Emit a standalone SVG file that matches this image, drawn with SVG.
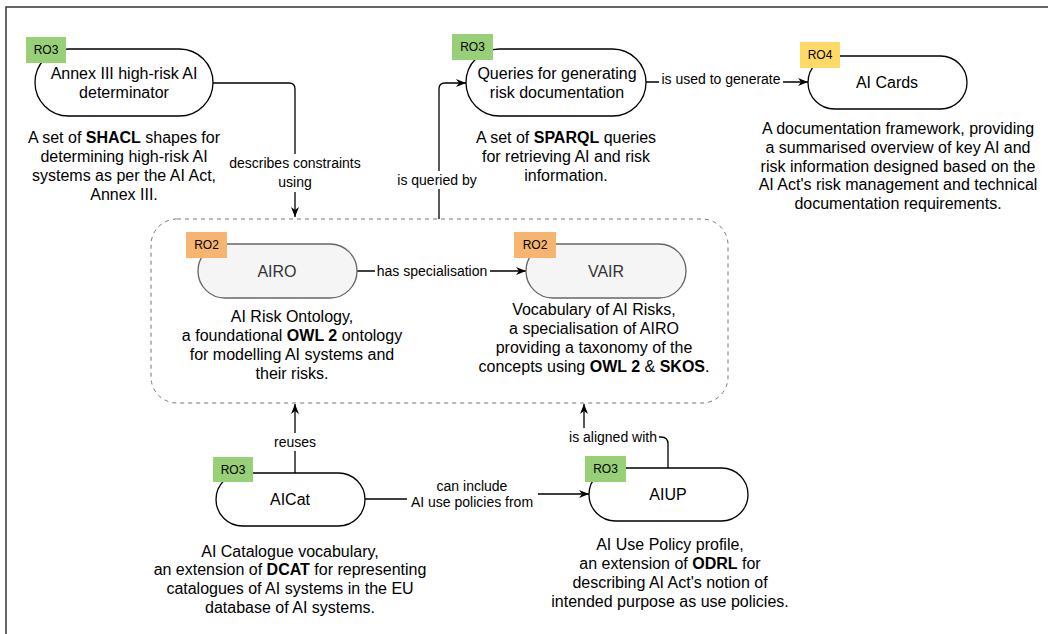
<svg xmlns="http://www.w3.org/2000/svg" width="1048" height="634" viewBox="0 0 1048 634">
  <style>
    text { font-family: "Liberation Sans", Arial, Helvetica, sans-serif; fill: #000; }
    .lbl { font-size: 16px; text-anchor: middle; }
    .desc { font-size: 16px; text-anchor: middle; }
    .edge-lbl { font-size: 14px; text-anchor: middle; }
    .badge-t { font-size: 12px; text-anchor: middle; }
    .pill { fill: #ffffff; stroke: #000000; stroke-width: 1.3; }
    .pill-g { fill: #f5f5f5; stroke: #666666; stroke-width: 1.3; }
    .lbl-g { fill: #333333; }
    .ro3 { fill: #97D077; }
    .ro2 { fill: #F5B46F; }
    .ro4 { fill: #FFD966; }
    .edge { fill: none; stroke: #000000; stroke-width: 1.3; }
    .lbl-bg { fill: #ffffff; }
    b, .b { font-weight: bold; }
  </style>
  <defs>
    <marker id="arrow" viewBox="0 0 10 10" refX="10" refY="5" markerWidth="10" markerHeight="10" markerUnits="userSpaceOnUse" orient="auto">
      <path d="M0,1 L10,5 L0,9 L3,5 z" fill="#000000"/>
    </marker>
  </defs>

  <rect width="1048" height="634" fill="#ffffff"/>
  <!-- frame -->
  <path d="M6,634 V7 H1048" fill="none" stroke="#333333" stroke-width="1.5"/>

  <!-- dashed grouping of the ontologies -->
  <g id="ontology-group">
    <rect x="151" y="219" width="577" height="184" rx="26" ry="26" fill="none" stroke="#777777" stroke-width="1" stroke-dasharray="4 4"/>
  </g>

  <!-- connectors -->
  <g id="connectors">
    <path class="edge" d="M213,83 H289 Q295,83 295,89 V217" marker-end="url(#arrow)"/>
    <rect class="lbl-bg" x="228" y="154" width="134" height="38"/>
    <text class="edge-lbl" x="295" y="168">describes constraints</text>
    <text class="edge-lbl" x="295" y="187">using</text>

    <path class="edge" d="M439,219 V89 Q439,83 445,83 H466" marker-end="url(#arrow)"/>
    <rect class="lbl-bg" x="394" y="171" width="86" height="18"/>
    <text class="edge-lbl" x="437" y="185">is queried by</text>

    <path class="edge" d="M646,82 H808" marker-end="url(#arrow)"/>
    <rect class="lbl-bg" x="659" y="71" width="124" height="18"/>
    <text class="edge-lbl" x="721" y="84">is used to generate</text>

    <path class="edge" d="M357,271 H526" marker-end="url(#arrow)"/>
    <rect class="lbl-bg" x="375" y="263" width="115" height="18"/>
    <text class="edge-lbl" x="432" y="276">has specialisation</text>

    <path class="edge" d="M295,473 V404" marker-end="url(#arrow)"/>
    <rect class="lbl-bg" x="272" y="433" width="46" height="18"/>
    <text class="edge-lbl" x="295" y="447">reuses</text>

    <path class="edge" d="M365,499 H472 V494 H589" marker-end="url(#arrow)"/>
    <rect class="lbl-bg" x="407" y="477" width="131" height="33"/>
    <text class="edge-lbl" x="472" y="491">can include</text>
    <text class="edge-lbl" x="472" y="507">AI use policies from</text>

    <path class="edge" d="M668,468 V444 Q668,437 661,437 H584 V404" marker-end="url(#arrow)"/>
    <rect class="lbl-bg" x="567" y="428" width="92" height="18"/>
    <text class="edge-lbl" x="613" y="442">is aligned with</text>
  </g>

  <!-- Annex III high-risk AI determinator -->
  <g id="annex-iii">
    <rect class="pill" x="35" y="49" width="178" height="67" rx="33.5"/>
    <text class="lbl" x="124" y="79">Annex III high-risk AI</text>
    <text class="lbl" x="124" y="98">determinator</text>
    <rect class="ro3" x="26" y="37" width="40" height="26"/>
    <text class="badge-t" x="46" y="54">RO3</text>
    <text class="desc" x="124" y="143">A set of <tspan class="b">SHACL</tspan> shapes for</text>
    <text class="desc" x="124" y="162">determining high-risk AI</text>
    <text class="desc" x="124" y="181">systems as per the AI Act,</text>
    <text class="desc" x="124" y="200">Annex III.</text>
  </g>

  <!-- Queries -->
  <g id="queries">
    <rect class="pill" x="466" y="49" width="180" height="67" rx="33.5"/>
    <text class="lbl" x="557" y="79">Queries for generating</text>
    <text class="lbl" x="557" y="98">risk documentation</text>
    <rect class="ro3" x="452" y="34" width="41" height="26"/>
    <text class="badge-t" x="472.5" y="51">RO3</text>
    <text class="desc" x="566" y="143">A set of <tspan class="b">SPARQL</tspan> queries</text>
    <text class="desc" x="566" y="162">for retrieving AI and risk</text>
    <text class="desc" x="566" y="181">information.</text>
  </g>

  <!-- AI Cards -->
  <g id="ai-cards">
    <rect class="pill" x="808" y="56" width="159" height="53" rx="26.5"/>
    <text class="lbl" x="887" y="88">AI Cards</text>
    <rect class="ro4" x="800" y="42" width="40" height="26"/>
    <text class="badge-t" x="820" y="59">RO4</text>
    <text class="desc" x="898" y="134">A documentation framework, providing</text>
    <text class="desc" x="898" y="153">a summarised overview of key AI and</text>
    <text class="desc" x="898" y="172">risk information designed based on the</text>
    <text class="desc" x="898" y="190">AI Act's risk management and technical</text>
    <text class="desc" x="898" y="209">documentation requirements.</text>
  </g>

  <!-- AIRO -->
  <g id="airo">
    <rect class="pill-g" x="198" y="244" width="159" height="54" rx="27"/>
    <text class="lbl lbl-g" x="277" y="277">AIRO</text>
    <rect class="ro2" x="186" y="232" width="41" height="26"/>
    <text class="badge-t" x="206.5" y="249">RO2</text>
    <text class="desc" x="292" y="322">AI Risk Ontology,</text>
    <text class="desc" x="292" y="341">a foundational <tspan class="b">OWL 2</tspan> ontology</text>
    <text class="desc" x="292" y="360">for modelling AI systems and</text>
    <text class="desc" x="292" y="379">their risks.</text>
  </g>

  <!-- VAIR -->
  <g id="vair">
    <rect class="pill-g" x="526" y="244" width="160" height="54" rx="27"/>
    <text class="lbl lbl-g" x="606" y="277">VAIR</text>
    <rect class="ro2" x="514" y="232" width="42" height="26"/>
    <text class="badge-t" x="535" y="249">RO2</text>
    <text class="desc" x="594" y="315">Vocabulary of AI Risks,</text>
    <text class="desc" x="594" y="334">a specialisation of AIRO</text>
    <text class="desc" x="594" y="353">providing a taxonomy of the</text>
    <text class="desc" x="594" y="372">concepts using <tspan class="b">OWL 2</tspan> &amp; <tspan class="b">SKOS</tspan>.</text>
  </g>

  <!-- AICat -->
  <g id="aicat">
    <rect class="pill" x="216" y="473" width="149" height="53" rx="26.5"/>
    <text class="lbl" x="290" y="505">AICat</text>
    <rect class="ro3" x="213" y="457" width="40" height="25"/>
    <text class="badge-t" x="233" y="474">RO3</text>
    <text class="desc" x="290" y="557">AI Catalogue vocabulary,</text>
    <text class="desc" x="290" y="575">an extension of <tspan class="b">DCAT</tspan> for representing</text>
    <text class="desc" x="290" y="594">catalogues of AI systems in the EU</text>
    <text class="desc" x="290" y="613">database of AI systems.</text>
  </g>

  <!-- AIUP -->
  <g id="aiup">
    <rect class="pill" x="589" y="468" width="159" height="53" rx="26.5"/>
    <text class="lbl" x="668" y="500">AIUP</text>
    <rect class="ro3" x="585" y="456" width="41" height="26"/>
    <text class="badge-t" x="605.5" y="473">RO3</text>
    <text class="desc" x="670" y="550">AI Use Policy profile,</text>
    <text class="desc" x="670" y="569">an extension of <tspan class="b">ODRL</tspan> for</text>
    <text class="desc" x="670" y="588">describing AI Act's notion of</text>
    <text class="desc" x="670" y="607">intended purpose as use policies.</text>
  </g>
</svg>
